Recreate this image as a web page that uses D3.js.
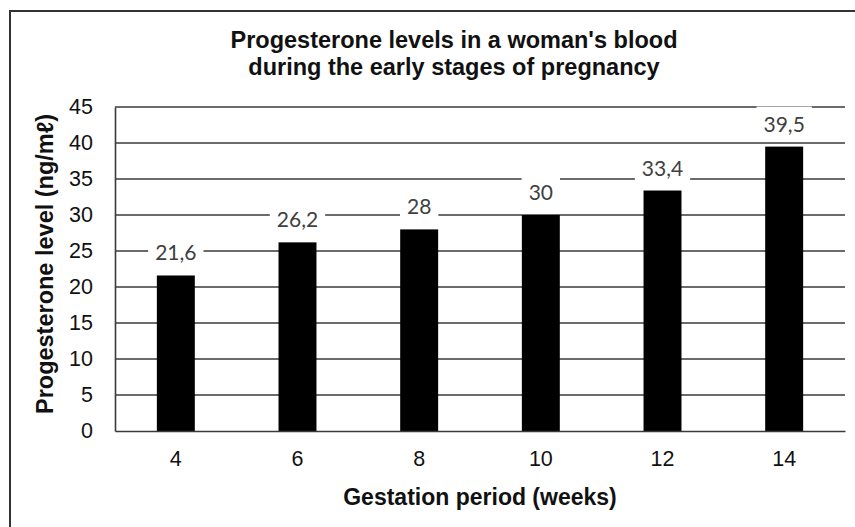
<!DOCTYPE html>
<meta charset="utf-8">
<script src="https://d3js.org/d3.v7.min.js"></script>
<style>
  body { margin: 0; background: #fff; }
</style>
<div id="my_dataviz"></div>
<script>
  // data
  var weeks = ["4", "6", "8", "10", "12", "14"];
  var levels = [21.6, 26.2, 28, 30, 33.4, 39.5];
  var levelLabels = ["21,6", "26,2", "28", "30", "33,4", "39,5"];
  var yTicks = [0, 5, 10, 15, 20, 25, 30, 35, 40, 45];
  var titleLines = ["Progesterone levels in a woman's blood", "during the early stages of pregnancy"];

  var W = 855, H = 527;
  var margin = {top: 107, right: 10, bottom: 96, left: 115},
      width = W - margin.left - margin.right,
      height = H - margin.top - margin.bottom;

  var root = d3.select("#my_dataviz")
    .append("svg")
      .attr("width", W)
      .attr("height", H);

  // outer frame (only top and left edges visible in the picture)
  root.append("rect")
    .attr("x", 10).attr("y", 11)
    .attr("width", 900).attr("height", 600)
    .attr("fill", "none")
    .attr("stroke", "#333")
    .attr("stroke-width", 2);

  // title
  root.append("g").selectAll("text")
    .data(titleLines)
    .enter().append("text")
      .attr("x", 454)
      .attr("y", function(d, i) { return 48 + i * 27; })
      .attr("text-anchor", "middle")
      .style("font-family", "'Liberation Sans', Arial, sans-serif")
      .style("font-weight", "bold")
      .style("font-size", "23.5px")
      .style("fill", "#111")
      .text(function(d) { return d; });

  var svg = root.append("g")
    .attr("transform", "translate(" + margin.left + "," + margin.top + ")");

  var x = d3.scaleBand()
    .domain(weeks)
    .range([0, width])
    .paddingInner(0.688)
    .paddingOuter(0.344);

  var y = d3.scaleLinear()
    .domain([0, 45])
    .range([height, 0]);

  // gridlines
  svg.append("g")
    .selectAll("line")
    .data(yTicks.filter(function(d) { return d > 0; }))
    .enter().append("line")
      .attr("x1", 0).attr("x2", width)
      .attr("y1", function(d) { return y(d); })
      .attr("y2", function(d) { return y(d); })
      .attr("stroke", "#3a3a3a")
      .attr("stroke-width", 1.6);

  // y axis
  var yAxis = svg.append("g")
    .call(d3.axisLeft(y).tickValues(yTicks).tickSize(0).tickPadding(22));
  yAxis.select(".domain").attr("stroke", "#3a3a3a").attr("stroke-width", 1.6);
  yAxis.selectAll("text")
    .style("font-family", "'Liberation Sans', Arial, sans-serif")
    .style("font-size", "21.5px")
    .style("fill", "#111");

  // bars
  svg.append("g")
    .selectAll("rect")
    .data(levels)
    .enter().append("rect")
      .attr("x", function(d, i) { return x(weeks[i]); })
      .attr("y", function(d) { return y(d); })
      .attr("width", x.bandwidth())
      .attr("height", function(d) { return height - y(d); })
      .attr("fill", "#000");

  // x axis
  var xAxis = svg.append("g")
    .attr("transform", "translate(0," + height + ")")
    .call(d3.axisBottom(x).tickSize(0).tickPadding(20));
  xAxis.select(".domain").attr("stroke", "#3a3a3a").attr("stroke-width", 1.6);
  xAxis.selectAll("text")
    .style("font-family", "'Liberation Sans', Arial, sans-serif")
    .style("font-size", "21.5px")
    .style("fill", "#111");

  // value labels with white boxes breaking the gridlines
  var lab = svg.append("g")
    .selectAll("g")
    .data(levels)
    .enter().append("g")
      .attr("transform", function(d, i) {
        return "translate(" + (x(weeks[i]) + x.bandwidth() / 2) + "," + (y(d) - 15) + ")";
      });
  lab.append("rect")
    .attr("fill", "#fff");
  lab.append("text")
    .attr("text-anchor", "middle")
    .style("font-family", "Lato, 'Open Sans', sans-serif")
    .style("font-size", "21px")
    .style("fill", "#404040")
    .text(function(d, i) { return levelLabels[i]; });
  lab.each(function() {
    var g = d3.select(this);
    var w = g.select("text").node().getComputedTextLength();
    g.select("rect")
      .attr("x", -w / 2 - 7)
      .attr("width", w + 14)
      .attr("y", -25)
      .attr("height", 30);
  });

  // axis titles
  root.append("text")
    .attr("x", margin.left + width / 2)
    .attr("y", 505)
    .attr("text-anchor", "middle")
    .style("font-family", "'Liberation Sans', Arial, sans-serif")
    .style("font-weight", "bold")
    .style("font-size", "23px")
    .style("fill", "#111")
    .text("Gestation period (weeks)");

  root.append("text")
    .attr("transform", "translate(53,264) rotate(-90)")
    .attr("text-anchor", "middle")
    .style("font-family", "'Liberation Sans', Arial, sans-serif")
    .style("font-weight", "bold")
    .style("font-size", "23.5px")
    .style("fill", "#111")
    .text("Progesterone level (ng/m\u2113)");
</script>
